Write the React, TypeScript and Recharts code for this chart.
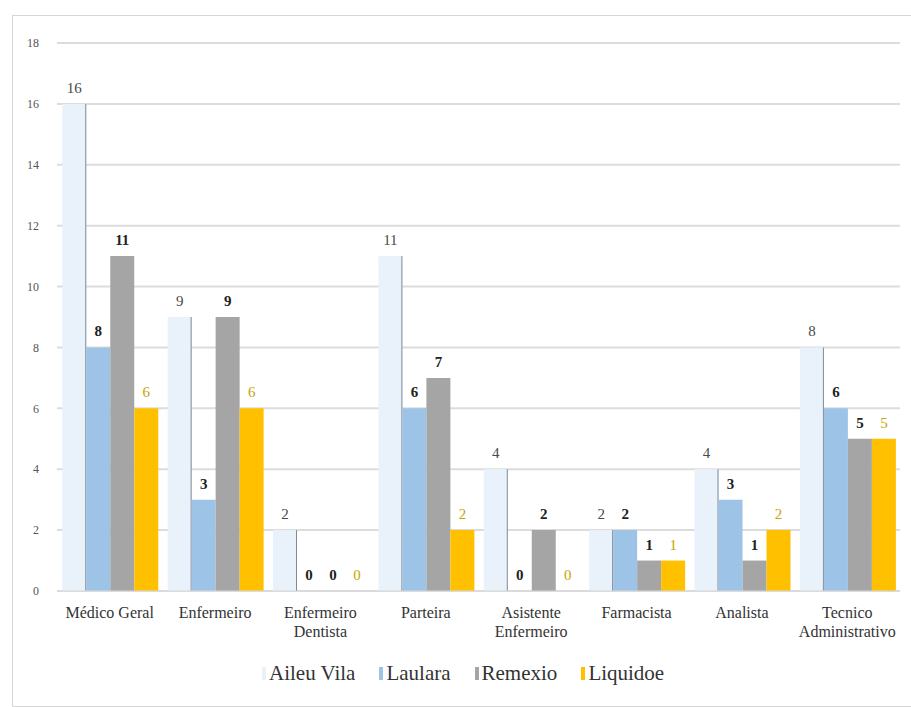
import React from 'react';
import {
  BarChart,
  Bar,
  XAxis,
  YAxis,
  CartesianGrid,
  Legend,
  LabelList,
} from 'recharts';

// categories (line breaks mark the wrapped axis labels)
const categories = [
  'Médico Geral',
  'Enfermeiro',
  'Enfermeiro\nDentista',
  'Parteira',
  'Asistente\nEnfermeiro',
  'Farmacista',
  'Analista',
  'Tecnico\nAdministrativo',
];

const aileuVila = [16, 9, 2, 11, 4, 2, 4, 8];
const laulara = [8, 3, 0, 6, 0, 2, 3, 6];
const remexio = [11, 9, 0, 7, 2, 1, 1, 5];
const liquidoe = [6, 6, 0, 2, 0, 1, 2, 5];

const yTicks = [0, 2, 4, 6, 8, 10, 12, 14, 16, 18];

const seriesInfo = [
  { key: 'aileu', name: 'Aileu Vila', color: '#e9f2fb', label: '#4a4a4a', bold: false },
  { key: 'laulara', name: 'Laulara', color: '#9dc3e6', label: '#222222', bold: true },
  { key: 'remexio', name: 'Remexio', color: '#a5a5a5', label: '#222222', bold: true },
  { key: 'liquidoe', name: 'Liquidoe', color: '#ffc000', label: '#c9a300', bold: false },
];

const data = categories.map((c, i) => ({
  category: c,
  aileu: aileuVila[i],
  laulara: laulara[i],
  remexio: remexio[i],
  liquidoe: liquidoe[i],
}));

const FONT = 'Liberation Serif, DejaVu Serif, serif';

// light bar with the thin dark right edge seen in the original
function EdgedBar(props: any) {
  const { x, y, width, height, fill } = props;
  if (height == null || height < 1) return null;
  return (
    <g>
      <rect x={x} y={y} width={width} height={height} fill={fill} />
      <line x1={x + width - 0.5} y1={y} x2={x + width - 0.5} y2={y + height} stroke="#7d8a97" strokeWidth={1} />
    </g>
  );
}

function CategoryTick(props: any) {
  const { x, y, payload } = props;
  const lines = String(payload.value).split('\n');
  return (
    <text x={x} y={y} textAnchor="middle" fill="#333" fontSize={16} style={{ fontFamily: FONT }}>
      {lines.map((l, i) => (
        <tspan key={i} x={x} dy={i === 0 ? 19 : 19}>
          {l}
        </tspan>
      ))}
    </text>
  );
}

function LegendContent() {
  return (
    <div
      style={{
        display: 'flex',
        justifyContent: 'flex-start',
        paddingLeft: 262,
        gap: 24,
        fontFamily: FONT,
        fontSize: 21,
        color: '#333',
      }}
    >
      {seriesInfo.map((s) => (
        <div key={s.key} style={{ display: 'flex', alignItems: 'center' }}>
          <span style={{ display: 'inline-block', width: 4, height: 13, background: s.color, marginRight: 3 }} />
          <span>{s.name}</span>
        </div>
      ))}
    </div>
  );
}

export default function App() {
  return (
    <div style={{ position: 'absolute', left: 0, top: 0, width: 911, height: 707, background: '#fff', overflow: 'hidden' }}>
      <div
        style={{
          position: 'absolute',
          left: 12,
          top: 15,
          width: 920,
          height: 690,
          border: '1px solid #d6d6d6',
        }}
      />
      <div style={{ position: 'absolute', left: 0, top: 0 }}>
        <BarChart
          width={911}
          height={707}
          data={data}
          margin={{ top: 43, right: 11, left: 0, bottom: 0 }}
          barGap={0}
          barCategoryGap="5%"
          style={{ fontFamily: FONT }}
        >
          <CartesianGrid vertical={false} stroke="#dcdcdc" strokeWidth={2} />
          <XAxis
            dataKey="category"
            height={70}
            interval={0}
            axisLine={{ stroke: '#d9d9d9' }}
            tickLine={false}
            tick={<CategoryTick />}
          />
          <YAxis
            width={57}
            domain={[0, 18]}
            ticks={yTicks}
            axisLine={false}
            tickLine={false}
            tickMargin={12}
            tick={{ fill: '#555', fontSize: 12, style: { fontFamily: FONT } }}
          />
          <Legend
            verticalAlign="bottom"
            height={46}
            wrapperStyle={{ left: 0, width: 911 }}
            content={<LegendContent />}
          />
          {seriesInfo.map((s) => (
            <Bar
              key={s.key}
              dataKey={s.key}
              name={s.name}
              fill={s.color}
              minPointSize={0.01}
              isAnimationActive={false}
              shape={s.key === 'aileu' ? <EdgedBar /> : undefined}
            >
              <LabelList
                dataKey={s.key}
                position="top"
                offset={11}
                fill={s.label}
                fontSize={15}
                fontWeight={s.bold ? 'bold' : 'normal'}
                style={{ fontFamily: FONT }}
              />
            </Bar>
          ))}
        </BarChart>
      </div>
    </div>
  );
}
